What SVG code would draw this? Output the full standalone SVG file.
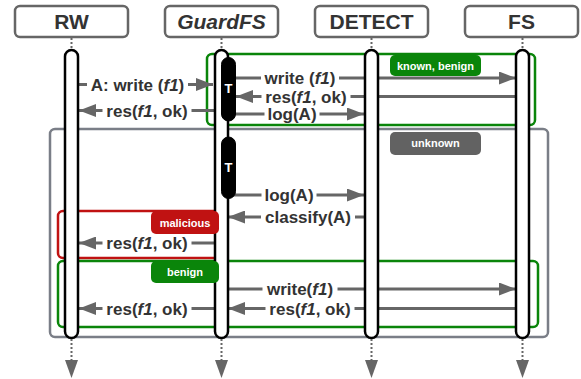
<svg xmlns="http://www.w3.org/2000/svg" width="581" height="379" viewBox="0 0 581 379">
<defs>
<style>
.hdr{fill:#fff;stroke:#666;stroke-width:2.5}
.htx{font-family:"Liberation Sans",Arial,sans-serif;font-weight:bold;font-size:21px;fill:#333;text-anchor:middle}
.life{fill:#fff;stroke:#000;stroke-width:2.5}
.dot{stroke:#666;stroke-width:2;stroke-dasharray:2 2;fill:none}
.tail{fill:#666}
.act{fill:#000;stroke:#000;stroke-width:1}
.atx{font-family:"Liberation Sans",Arial,sans-serif;font-weight:bold;font-size:13px;fill:#fff;text-anchor:middle}
.msg{stroke:#666;stroke-width:3;fill:none;marker-end:url(#ah)}
.mbg{fill:#fff;stroke:none}
.mtx{font-family:"Liberation Sans",Arial,sans-serif;font-weight:bold;font-size:17px;fill:#333;text-anchor:middle}
.frame{fill:none;stroke-width:2.5}
.pill{stroke:none}
.ptx{font-family:"Liberation Sans",Arial,sans-serif;font-weight:bold;font-size:11px;fill:#fff;text-anchor:middle}
.it{font-style:italic}
</style>
<marker id="ah" markerUnits="userSpaceOnUse" markerWidth="17" markerHeight="13" refX="17" refY="6.5" orient="auto">
<path d="M0,0 L17,6.5 L0,13 z" fill="#666"/>
</marker>
</defs>

<g id="frames">
<rect x="50" y="129" width="498" height="208" rx="5" class="frame" stroke="#7a7e87"/>
<rect x="207" y="54" width="328" height="71" rx="5" class="frame" stroke="#0a850a"/>
<rect x="58" y="211" width="162" height="47" rx="5" class="frame" stroke="#c01212"/>
<rect x="58" y="261" width="480" height="66" rx="5" class="frame" stroke="#0a850a"/>
</g>

<g id="connectors">
<line x1="72" y1="84.5" x2="213" y2="84.5" class="msg"/>
<line x1="221" y1="110.5" x2="79" y2="110.5" class="msg"/>
<line x1="230" y1="78" x2="516" y2="78" class="msg"/>
<line x1="523" y1="96.5" x2="236" y2="96.5" class="msg"/>
<line x1="230" y1="114" x2="364" y2="114" class="msg"/>
<line x1="230" y1="195" x2="364" y2="195" class="msg"/>
<line x1="371" y1="217" x2="228" y2="217" class="msg"/>
<line x1="221" y1="243" x2="79" y2="243" class="msg"/>
<line x1="221" y1="289" x2="516" y2="289" class="msg"/>
<line x1="523" y1="308.5" x2="228" y2="308.5" class="msg"/>
<line x1="221" y1="308.5" x2="79" y2="308.5" class="msg"/>
</g>

<g id="message-label-backgrounds">
<rect x="87" y="77" width="101" height="15" class="mbg"/>
<rect x="102.5" y="103" width="89" height="15" class="mbg"/>
<rect x="261" y="70.5" width="78" height="15" class="mbg"/>
<rect x="261.5" y="89" width="89" height="15" class="mbg"/>
<rect x="264.5" y="106.5" width="55" height="15" class="mbg"/>
<rect x="261.5" y="187.5" width="55" height="15" class="mbg"/>
<rect x="261" y="209.5" width="94" height="15" class="mbg"/>
<rect x="102.5" y="235.5" width="89" height="15" class="mbg"/>
<rect x="262.5" y="281.5" width="75" height="15" class="mbg"/>
<rect x="265.5" y="301" width="89" height="15" class="mbg"/>
<rect x="102.5" y="301" width="89" height="15" class="mbg"/>
</g>

<g id="RW">
<rect x="15" y="6" width="113" height="31" rx="5" class="hdr"/>
<text x="71.5" y="29" class="htx">RW</text>
<line x1="71.5" y1="38" x2="71.5" y2="50" class="dot"/>
<rect x="65" y="50" width="13" height="288" rx="6.5" class="life"/>
<line x1="71.5" y1="339" x2="71.5" y2="360" class="dot"/>
<path d="M65,360 L78,360 L71.5,378 z" class="tail"/>
</g>

<g id="GuardFS">
<rect x="165" y="6" width="113" height="31" rx="5" class="hdr"/>
<text x="221.5" y="29" class="htx" font-style="italic">GuardFS</text>
<line x1="221.5" y1="38" x2="221.5" y2="50" class="dot"/>
<rect x="215" y="50" width="13" height="288" rx="6.5" class="life"/>
<line x1="221.5" y1="339" x2="221.5" y2="360" class="dot"/>
<path d="M215,360 L228,360 L221.5,378 z" class="tail"/>
<rect x="221.5" y="57.5" width="14" height="63.5" rx="7" class="act"/>
<text x="228.5" y="93" class="atx">T</text>
<rect x="221.5" y="137" width="14" height="61.5" rx="7" class="act"/>
<text x="228.5" y="172" class="atx">T</text>
</g>

<g id="DETECT">
<rect x="315" y="6" width="113" height="31" rx="5" class="hdr"/>
<text x="371.5" y="29" class="htx">DETECT</text>
<line x1="371.5" y1="38" x2="371.5" y2="50" class="dot"/>
<rect x="365" y="50" width="13" height="288" rx="6.5" class="life"/>
<line x1="371.5" y1="339" x2="371.5" y2="360" class="dot"/>
<path d="M365,360 L378,360 L371.5,378 z" class="tail"/>
</g>

<g id="FS">
<rect x="465" y="6" width="113" height="31" rx="5" class="hdr"/>
<text x="521.5" y="29" class="htx">FS</text>
<line x1="522.5" y1="38" x2="522.5" y2="50" class="dot"/>
<rect x="516" y="50" width="13" height="288" rx="6.5" class="life"/>
<line x1="522.5" y1="339" x2="522.5" y2="360" class="dot"/>
<path d="M516,360 L529,360 L522.5,378 z" class="tail"/>
</g>

<g id="labels">
<rect x="390" y="55" width="91" height="21" rx="5" class="pill" fill="#0a850a"/>
<text x="435.5" y="69.5" class="ptx">known, benign</text>
<rect x="390" y="132" width="91" height="23" rx="5" class="pill" fill="#626262"/>
<text x="435.5" y="147" class="ptx">unknown</text>
<rect x="151" y="211" width="68" height="23" rx="5" class="pill" fill="#c01212"/>
<text x="185" y="226.5" class="ptx">malicious</text>
<rect x="151" y="261" width="68" height="22" rx="5" class="pill" fill="#0a850a"/>
<text x="185" y="275.5" class="ptx">benign</text>
</g>

<g id="message-labels">
<text x="137.5" y="90.5" class="mtx">A: write (<tspan class="it">f1</tspan>)</text>
<text x="147" y="116.5" class="mtx">res(<tspan class="it">f1</tspan>, ok)</text>
<text x="300" y="84" class="mtx">write (<tspan class="it">f1</tspan>)</text>
<text x="306" y="102.5" class="mtx">res(<tspan class="it">f1</tspan>, ok)</text>
<text x="292" y="120" class="mtx">log(A)</text>
<text x="289" y="201" class="mtx">log(A)</text>
<text x="308" y="223" class="mtx">classify(A)</text>
<text x="147" y="249" class="mtx">res(<tspan class="it">f1</tspan>, ok)</text>
<text x="300" y="295" class="mtx">write(<tspan class="it">f1</tspan>)</text>
<text x="310" y="314.5" class="mtx">res(<tspan class="it">f1</tspan>, ok)</text>
<text x="147" y="314.5" class="mtx">res(<tspan class="it">f1</tspan>, ok)</text>
</g>
</svg>
